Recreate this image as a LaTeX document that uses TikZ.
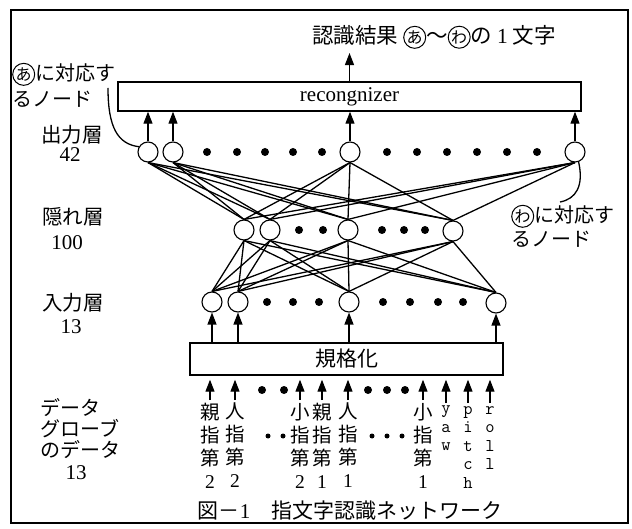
\documentclass[tikz,border=0pt]{standalone}
\usepackage{fontspec}
\setmainfont{Liberation Serif}
\newfontfamily\jp{Noto Sans CJK JP}
\usetikzlibrary{arrows.meta}
\newcommand\maru[1]{\tikz[baseline=(mc.base)]\node[circle,draw,line width=1pt,inner sep=0pt,minimum size=22pt,font=\jp\fontsize{16}{16}\selectfont](mc){#1};}
\begin{document}
\begin{tikzpicture}[x=1pt,y=-1pt,
  neuron/.style={circle,draw,line width=1.1pt,minimum size=20pt,inner sep=0pt,fill=white},
  dotb/.style={circle,fill=black,inner sep=0pt,minimum size=8pt},
  dots/.style={circle,fill=black,inner sep=0pt,minimum size=5pt},
  box/.style={draw,line width=1.4pt,inner sep=0pt},
  arr/.style={-{Triangle[length=12pt,width=9pt]},line width=1.1pt},
  link/.style={line width=1.3pt},
  jlab/.style={font=\jp\fontsize{20.5}{22}\selectfont,inner sep=0pt},
  num/.style={font=\fontsize{21}{21}\selectfont,inner sep=0pt},
  col/.style={font=\jp\fontsize{19.5}{23}\selectfont,inner sep=0pt,align=center,anchor=north},
  tcol/.style={font=\ttfamily\fontsize{18}{18.5}\selectfont,inner sep=0pt,align=center,anchor=north}
]
\useasboundingbox (0,0) rectangle (632,529);
\draw[line width=1.5pt] (11,10) rectangle (628,523);

% title and boxes
\node[jlab,font=\jp\fontsize{21.5}{22}\selectfont] (title) at (434,37) {認識結果 \maru{あ}〜\maru{わ}の {\rmfamily 1} 文字};
\node[box,minimum width=463pt,minimum height=29pt,font=\fontsize{21}{21}\selectfont] (rec) at (349.5,96.5) {recongnizer};
\node[box,minimum width=313pt,minimum height=32pt,font=\jp\fontsize{21}{21}\selectfont] (norm) at (346.5,359) {規格化};
\draw[arr,shorten >=4pt] (rec.north) -- (rec.north |- title.south);

% layer labels
\node[jlab] (lo) at (72,135) {出力層};
\node[num] (lon) at (70,155) {42};
\node[jlab] (lh) at (73,217) {隠れ層};
\node[num] (lhn) at (67,243) {100};
\node[jlab] (li) at (73,303) {入力層};
\node[num] (lin) at (71,327) {13};
\node[jlab,align=left,anchor=north west,font=\jp\fontsize{20}{21}\selectfont] (ld) at (40,398) {データ\\グローブ\\のデータ};
\node[num] (ldn) at (76,473) {13};

% neurons
\node[neuron] (o1) at (148,152) {};
\node[neuron] (o2) at (173,152) {};
\node[neuron] (o3) at (350,152) {};
\node[neuron] (o4) at (575,152) {};
\node[neuron] (h1) at (244,230) {};
\node[neuron] (h2) at (270,230) {};
\node[neuron] (h3) at (348,230) {};
\node[neuron] (h4) at (453,231) {};
\node[neuron] (i1) at (212,302) {};
\node[neuron] (i2) at (238,302) {};
\node[neuron] (i3) at (349,302) {};
\node[neuron] (i4) at (496,303) {};

% dots
\foreach \x in {207,237,265,293,322,387,417,447,477,507,537} \node[dotb] at (\x,152) {};
\foreach \x in {299,323,382,404,425} \node[dotb] at (\x,230) {};
\foreach \x in {267,293,319,383,410,438,463} \node[dotb] at (\x,302) {};
\foreach \x in {262,284,368,387,405} \node[dotb] at (\x,390) {};
\foreach \x in {268,283,372,387,402} \node[dots] at (\x,436) {};

% connections
\foreach \a in {o1,o2,o3,o4} \foreach \b in {h1,h2,h3,h4} \draw[link] (\a.south) -- (\b.north);
\foreach \a in {h1,h2,h3,h4} \foreach \b in {i1,i2,i3,i4} \draw[link] (\a.south) -- (\b.north);

% arrows to recognizer
\foreach \n in {o1,o2,o3,o4} \draw[arr] (\n.north) -- (\n.north |- rec.south);
% arrows from normalizer
\foreach \n in {i1,i2,i3,i4} \draw[arr] (norm.north -| \n) -- (\n.south);

% input columns
\node[col] (c1) at (210,403) {親\\指\\第\\{\rmfamily 2}};
\node[col] (c2) at (235,403) {人\\指\\第\\{\rmfamily 2}};
\node[col] (c3) at (300,403) {小\\指\\第\\{\rmfamily 2}};
\node[col] (c4) at (322,403) {親\\指\\第\\{\rmfamily 1}};
\node[col] (c5) at (348,403) {人\\指\\第\\{\rmfamily 1}};
\node[col] (c6) at (423,403) {小\\指\\第\\{\rmfamily 1}};
\node[tcol] (c7) at (446,406) {y\\a\\w};
\node[tcol] (c8) at (468,406) {p\\i\\t\\c\\h};
\node[tcol] (c9) at (490,406) {r\\o\\l\\l};
\foreach \n in {c1,c2,c3,c4,c5,c6,c7,c8,c9}
  \draw[arr,shorten <=3pt,shorten >=4pt] (\n.north) -- (\n.north |- norm.south);

% annotations
\node[jlab,align=left,anchor=west,font=\jp\fontsize{20}{26}\selectfont] (la) at (12,85) {\maru{あ}に対応す\\るノード};
\coordinate (lac) at (108,88);
\draw[link] (lac) .. controls (108,128) and (118,144) .. (o1.150);
\node[jlab,align=left,anchor=west,font=\jp\fontsize{20}{24}\selectfont] (lw) at (511,226) {\maru{わ}に対応す\\るノード};
\coordinate (lwc) at (560,202);
\draw[link] (o4.-70) .. controls (584,186) and (576,199) .. (lwc);

% caption
\node[jlab,font=\jp\fontsize{21}{21}\selectfont] (cap) at (350,511) {図－{\rmfamily 1}\quad 指文字認識ネットワーク};
\end{tikzpicture}
\end{document}
